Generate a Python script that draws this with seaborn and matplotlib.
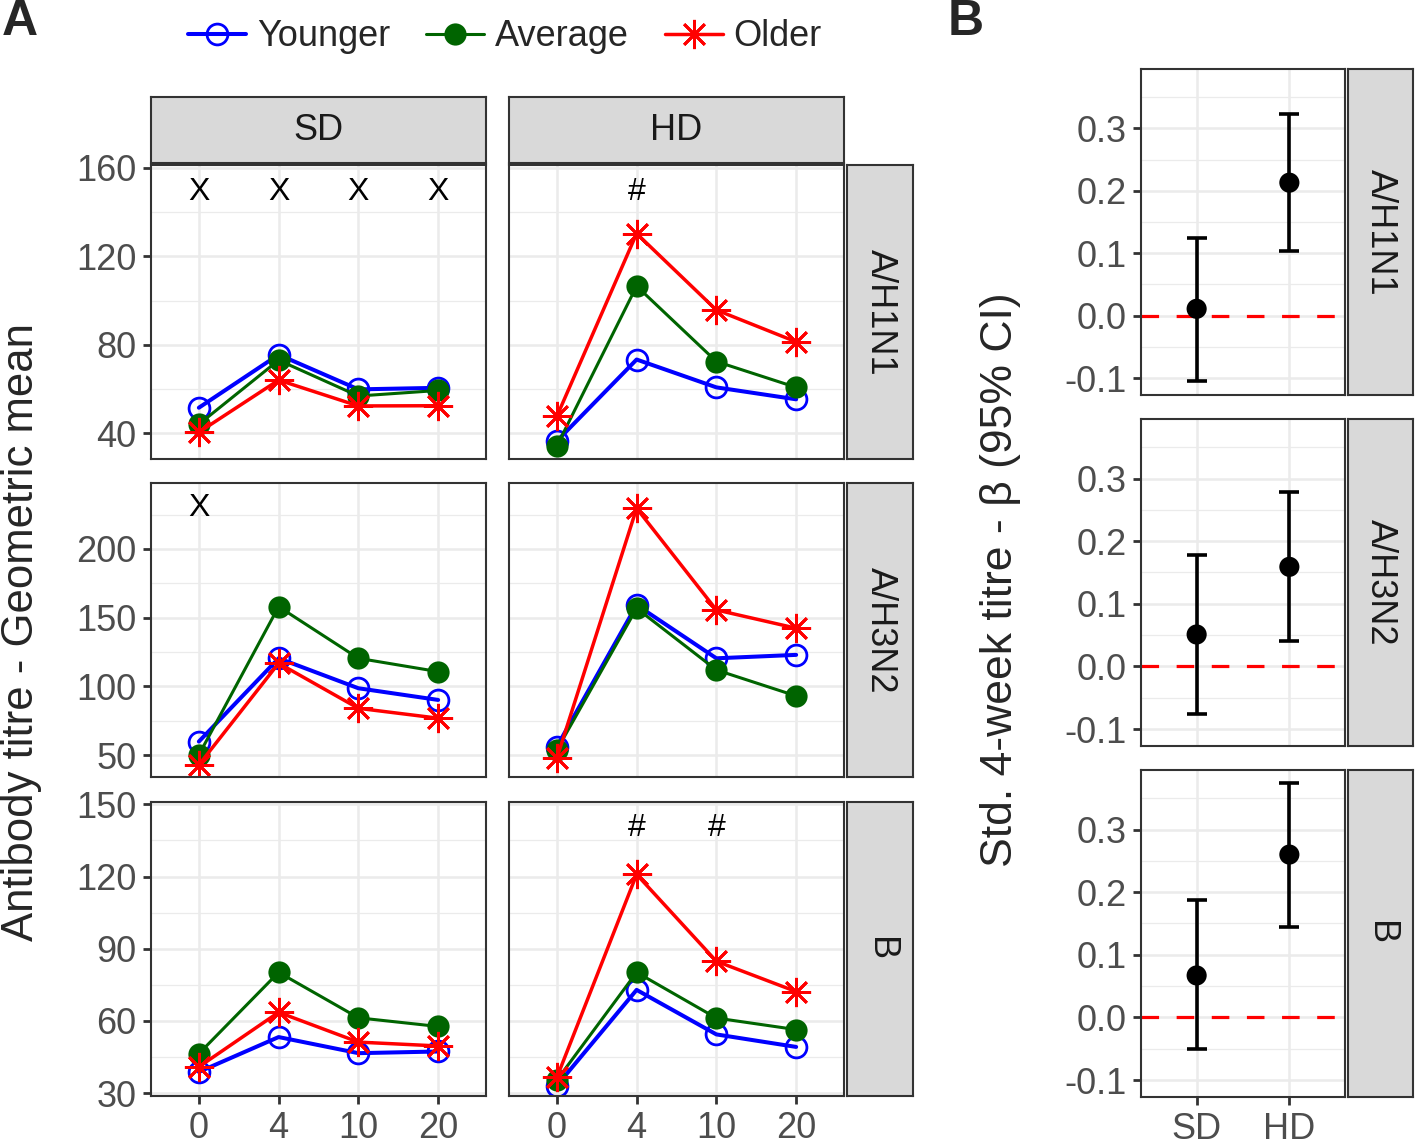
import matplotlib
matplotlib.use("Agg")
import numpy as np
import pandas as pd
import matplotlib.pyplot as plt
import seaborn as sns

sns.set_theme(style="white")
plt.rcParams["font.family"] = ["Liberation Sans", "DejaVu Sans"]

W, H = 1416, 1145

# ── data ─────────────────────────────────────────────────────────────────────
days    = ["0", "4", "10", "20"]
groups  = ["Younger", "Average", "Older"]
strains = ["A/H1N1", "A/H3N2", "B"]
doses   = ["SD", "HD"]

h1n1_sd = {"Younger": [51.5, 75.5, 59.8, 60.5],
           "Average": [44.0, 73.0, 56.8, 59.3],
           "Older":   [40.4, 64.0, 52.3, 52.4]}
h1n1_hd = {"Younger": [36.4, 73.3, 60.7, 55.3],
           "Average": [34.2, 106.5, 72.4, 60.7],
           "Older":   [47.6, 130.3, 95.7, 81.3]}
h3n2_sd = {"Younger": [59.8, 120.4, 98.6, 90.1],
           "Average": [50.1, 158.0, 120.4, 110.7],
           "Older":   [42.8, 116.8, 84.0, 76.8]}
h3n2_hd = {"Younger": [56.1, 159.2, 120.4, 122.9],
           "Average": [53.7, 156.8, 111.9, 93.0],
           "Older":   [47.7, 229.6, 155.6, 142.3]}
b_sd    = {"Younger": [38.8, 53.3, 46.6, 47.3],
           "Average": [46.4, 80.2, 61.3, 57.7],
           "Older":   [40.9, 63.6, 51.2, 49.6]}
b_hd    = {"Younger": [33.1, 72.9, 54.4, 49.2],
           "Average": [35.4, 80.2, 61.2, 56.4],
           "Older":   [36.5, 120.9, 84.8, 72.2]}

# significance marks: (strain, dose, day, label, y)
annot_strain = ["A/H1N1", "A/H1N1", "A/H1N1", "A/H1N1", "A/H1N1", "A/H3N2", "B", "B"]
annot_dose   = ["SD", "SD", "SD", "SD", "HD", "SD", "HD", "HD"]
annot_day    = ["0", "4", "10", "20", "4", "0", "4", "10"]
annot_text   = ["X", "X", "X", "X", "#", "X", "#", "#"]
annot_y      = [149, 149, 149, 149, 149, 230, 140, 140]

# panel B: standardised 4-week titre beta (95% CI)
beta_est = {"A/H1N1": [0.011, 0.213], "A/H3N2": [0.051, 0.159], "B": [0.067, 0.260]}
beta_lo  = {"A/H1N1": [-0.104, 0.103], "A/H3N2": [-0.076, 0.040], "B": [-0.051, 0.145]}
beta_hi  = {"A/H1N1": [0.125, 0.323], "A/H3N2": [0.178, 0.278], "B": [0.187, 0.374]}

panels = {("A/H1N1", "SD"): h1n1_sd, ("A/H1N1", "HD"): h1n1_hd,
          ("A/H3N2", "SD"): h3n2_sd, ("A/H3N2", "HD"): h3n2_hd,
          ("B", "SD"): b_sd, ("B", "HD"): b_hd}
rows = []
for (s, d), vals in panels.items():
    for g in groups:
        for day, v in zip(days, vals[g]):
            rows.append(dict(strain=s, dose=d, group=g, day=day, titre=v))
df = pd.DataFrame(rows)

# ── styling ──────────────────────────────────────────────────────────────────
style = {"Younger": dict(color="#0000FF", marker="o", mfc="none", ms=15, mew=2.0, lw=2.9),
         "Average": dict(color="#006400", marker="o", mfc="#006400", ms=16, mew=0, lw=2.2),
         "Older":   dict(color="#FF0000", marker=(8, 2, 0), mfc="none", ms=21, mew=2.0, lw=2.5)}
ylims  = {"A/H1N1": (28.3, 161.3), "A/H3N2": (34, 248), "B": (28.8, 151)}
ymaj   = {"A/H1N1": [40, 80, 120, 160], "A/H3N2": [50, 100, 150, 200], "B": [30, 60, 90, 120, 150]}
ymin   = {"A/H1N1": [60, 100, 140], "A/H3N2": [75, 125, 175, 225], "B": [45, 75, 105, 135]}

DARK, GRID, STRIP, TICKLAB = "#333333", "#EBEBEB", "#D9D9D9", "#4D4D4D"
FS = 26

fig = plt.figure(figsize=(W / 100, H / 100), dpi=100)

def add_ax(x0, y0, x1, y1):
    return fig.add_axes([x0 / W, 1 - y1 / H, (x1 - x0) / W, (y1 - y0) / H])

def frame(ax):
    for sp in ax.spines.values():
        sp.set_visible(True); sp.set_color(DARK); sp.set_linewidth(1.5)

def strip(x0, y0, x1, y1, text, rot=0):
    s = add_ax(x0, y0, x1, y1)
    s.set_facecolor(STRIP); frame(s)
    s.set_xticks([]); s.set_yticks([])
    s.text(0.5, 0.5, text, ha="center", va="center", rotation=rot, fontsize=FS,
           color="#1A1A1A", transform=s.transAxes)

def style_ax(ax, left, bottom):
    frame(ax)
    ax.set_axisbelow(True)
    ax.grid(which="major", color=GRID, lw=1.8)
    ax.grid(which="minor", axis="y", color=GRID, lw=0.9)
    ax.tick_params(which="major", direction="out", length=6, width=2, color=DARK,
                   labelcolor=TICKLAB, labelsize=FS, pad=4.5,
                   left=left, labelleft=left, bottom=bottom, labelbottom=bottom)
    ax.tick_params(which="minor", length=0)
    ax.set_xlabel(""); ax.set_ylabel("")

# ── panel A ─────────────────────────────────────────────────────────────────
col_x = {"SD": (151, 486), "HD": (509, 844)}
row_y = {"A/H1N1": (165, 459), "A/H3N2": (483, 777), "B": (802, 1096)}

for d in doses:
    strip(col_x[d][0], 97, col_x[d][1], 163, d)
for s in strains:
    strip(847, row_y[s][0], 913, row_y[s][1], s, rot=-90)

handles = None
for s in strains:
    for d in doses:
        ax = add_ax(col_x[d][0], row_y[s][0], col_x[d][1], row_y[s][1])
        sub = df[(df.strain == s) & (df.dose == d)]
        for g in groups:
            st = style[g]
            sns.lineplot(data=sub[sub.group == g], x="day", y="titre", ax=ax,
                         color=st["color"], marker=st["marker"], mfc=st["mfc"],
                         mec=st["color"], ms=st["ms"], mew=st["mew"], lw=st["lw"],
                         errorbar=None, sort=False, legend=False, label=g)
        for a_s, a_d, a_day, a_t, a_y in zip(annot_strain, annot_dose, annot_day, annot_text, annot_y):
            if a_s == s and a_d == d:
                ax.text(days.index(a_day), a_y, a_t, ha="center", va="center", fontsize=23, color="black")
        ax.set_xlim(-0.6, 3.6)
        ax.set_ylim(*ylims[s])
        ax.set_yticks(ymaj[s])
        ax.set_yticks(ymin[s], minor=True)
        style_ax(ax, left=(d == "SD"), bottom=(s == "B"))
        if handles is None:
            handles, labels = ax.get_legend_handles_labels()

fig.legend(handles, labels, loc="center", bbox_to_anchor=(505 / W, 1 - 37 / H), ncol=3,
           frameon=False, fontsize=FS, handlelength=1.6, handletextpad=0.3,
           columnspacing=1.0, numpoints=1)

fig.text(22 / W, 1 - 632 / H, "Antibody titre - Geometric mean", rotation=90,
         ha="center", va="center", fontsize=31.5)
fig.text(20 / W, 1 - 22 / H, "A", ha="center", va="center", fontsize=36, weight="bold")

# ── panel B ─────────────────────────────────────────────────────────────────
rowB_y = {"A/H1N1": (69, 395), "A/H3N2": (419, 746), "B": (770, 1097)}
for s in strains:
    ax = add_ax(1141, rowB_y[s][0], 1345, rowB_y[s][1])
    est = np.array(beta_est[s]); lo = np.array(beta_lo[s]); hi = np.array(beta_hi[s])
    ax.axhline(0, color="#FF0000", lw=2.3, ls=(0, (5.5, 5.5)), zorder=1)
    ax.errorbar(doses, est, yerr=[est - lo, hi - est], fmt="none", ecolor="black",
                elinewidth=2.6, capsize=7, capthick=2.6, zorder=2)
    sns.scatterplot(x=doses, y=est, ax=ax, color="black", s=210, edgecolor="none", zorder=3)
    ax.set_xlim(-0.6, 1.6)
    ax.set_ylim(-0.127, 0.395)
    ax.set_yticks([-0.1, 0.0, 0.1, 0.2, 0.3])
    ax.set_yticklabels(["-0.1", "0.0", "0.1", "0.2", "0.3"])
    ax.set_yticks([-0.05, 0.05, 0.15, 0.25, 0.35], minor=True)
    style_ax(ax, left=True, bottom=(s == "B"))
    strip(1348, rowB_y[s][0], 1413, rowB_y[s][1], s, rot=-90)

fig.text(1000 / W, 1 - 580 / H, "Std. 4-week titre - β (95% CI)", rotation=90,
         ha="center", va="center", fontsize=32)
fig.text(966 / W, 1 - 22 / H, "B", ha="center", va="center", fontsize=36, weight="bold")

fig.savefig("out.png", dpi=100)
